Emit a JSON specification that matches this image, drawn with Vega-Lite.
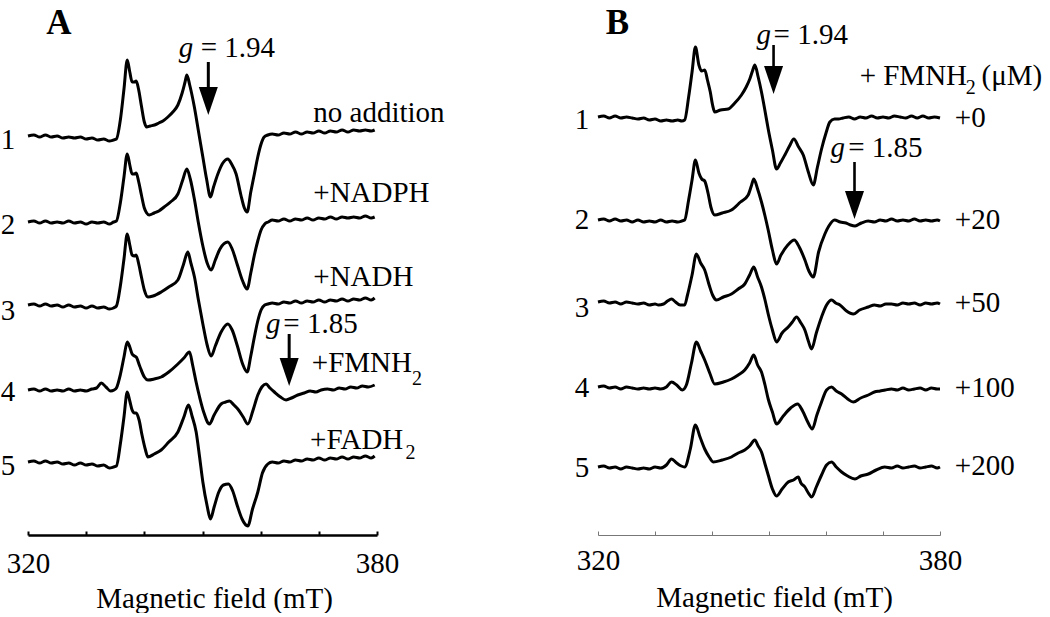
{
"$schema": "https://vega.github.io/schema/vega-lite/v6.json",
"background": "white",
"padding": {"left": 0, "top": 6, "right": 0, "bottom": 0},
"bounds": "flush",
"spacing": 221,
"config": {"view": {"stroke": null}, "font": "Liberation Serif"},
"datasets": {
"A": [
{"t":1,"x":320,"y":39.9},{"t":1,"x":321,"y":40.0},{"t":1,"x":322,"y":39.8},{"t":1,"x":323,"y":40.0},{"t":1,"x":324,"y":39.8},{"t":1,"x":325,"y":39.9},{"t":1,"x":326,"y":39.7},{"t":1,"x":327,"y":39.8},{"t":1,"x":328,"y":39.7},{"t":1,"x":329,"y":39.8},{"t":1,"x":330,"y":39.6},{"t":1,"x":331,"y":39.7},{"t":1,"x":332,"y":39.5},{"t":1,"x":333,"y":39.6},{"t":1,"x":334,"y":39.4},{"t":1,"x":334.7,"y":39.5},{"t":1,"x":335.2,"y":39.6},{"t":1,"x":335.9,"y":41.6},{"t":1,"x":336.5,"y":44.6},{"t":1,"x":337.06,"y":47.5},{"t":1,"x":337.5,"y":46.3},{"t":1,"x":337.9,"y":45.3},{"t":1,"x":338.3,"y":45.3},{"t":1,"x":338.6,"y":45.4},{"t":1,"x":339.0,"y":44.6},{"t":1,"x":339.5,"y":42.9},{"t":1,"x":340.0,"y":41.3},{"t":1,"x":340.4,"y":40.8},{"t":1,"x":341.0,"y":40.9},{"t":1,"x":341.75,"y":41.0},{"t":1,"x":342.5,"y":41.2},{"t":1,"x":343.2,"y":41.4},{"t":1,"x":344.05,"y":41.8},{"t":1,"x":344.9,"y":42.3},{"t":1,"x":345.77,"y":43.0},{"t":1,"x":346.5,"y":44.2},{"t":1,"x":347.0,"y":45.3},{"t":1,"x":347.31,"y":46.0},{"t":1,"x":347.8,"y":45.0},{"t":1,"x":348.6,"y":42.8},{"t":1,"x":349.3,"y":40.4},{"t":1,"x":350.06,"y":37.8},{"t":1,"x":350.7,"y":35.6},{"t":1,"x":351.37,"y":33.8},{"t":1,"x":351.9,"y":34.8},{"t":1,"x":352.64,"y":36.1},{"t":1,"x":353.5,"y":37.2},{"t":1,"x":354.35,"y":37.6},{"t":1,"x":355.0,"y":37.1},{"t":1,"x":355.78,"y":36.1},{"t":1,"x":356.6,"y":34.0},{"t":1,"x":357.2,"y":32.7},{"t":1,"x":357.67,"y":32.3},{"t":1,"x":358.3,"y":34.3},{"t":1,"x":358.92,"y":36.1},{"t":1,"x":359.5,"y":37.8},{"t":1,"x":360.07,"y":39.1},{"t":1,"x":360.6,"y":39.8},{"t":1,"x":361.23,"y":40.0},{"t":1,"x":362,"y":40.1},{"t":1,"x":363,"y":40.0},{"t":1,"x":364,"y":40.2},{"t":1,"x":365,"y":40.1},{"t":1,"x":366,"y":40.3},{"t":1,"x":367,"y":40.1},{"t":1,"x":368,"y":40.3},{"t":1,"x":369,"y":40.2},{"t":1,"x":370,"y":40.4},{"t":1,"x":371,"y":40.2},{"t":1,"x":372,"y":40.4},{"t":1,"x":373,"y":40.3},{"t":1,"x":374,"y":40.5},{"t":1,"x":375,"y":40.3},{"t":1,"x":376,"y":40.5},{"t":1,"x":377,"y":40.4},{"t":1,"x":378,"y":40.5},{"t":1,"x":379,"y":40.4},{"t":1,"x":379.6,"y":40.5},
{"t":2,"x":320,"y":31.3},{"t":2,"x":321,"y":31.4},{"t":2,"x":322,"y":31.2},{"t":2,"x":323,"y":31.4},{"t":2,"x":324,"y":31.2},{"t":2,"x":325,"y":31.3},{"t":2,"x":326,"y":31.2},{"t":2,"x":327,"y":31.4},{"t":2,"x":328,"y":31.2},{"t":2,"x":329,"y":31.3},{"t":2,"x":330,"y":31.1},{"t":2,"x":331,"y":31.3},{"t":2,"x":332,"y":31.2},{"t":2,"x":333,"y":31.3},{"t":2,"x":334,"y":31.1},{"t":2,"x":334.7,"y":31.3},{"t":2,"x":335.2,"y":31.4},{"t":2,"x":335.9,"y":33.3},{"t":2,"x":336.5,"y":35.8},{"t":2,"x":337.06,"y":38.1},{"t":2,"x":337.5,"y":37.0},{"t":2,"x":337.9,"y":36.1},{"t":2,"x":338.3,"y":36.1},{"t":2,"x":338.6,"y":36.2},{"t":2,"x":339.0,"y":35.4},{"t":2,"x":339.5,"y":34.0},{"t":2,"x":340.0,"y":32.7},{"t":2,"x":340.4,"y":32.2},{"t":2,"x":340.84,"y":32.0},{"t":2,"x":341.7,"y":32.2},{"t":2,"x":342.5,"y":32.4},{"t":2,"x":343.41,"y":32.8},{"t":2,"x":344.5,"y":33.3},{"t":2,"x":345.77,"y":34.1},{"t":2,"x":346.6,"y":35.5},{"t":2,"x":347.31,"y":36.6},{"t":2,"x":347.9,"y":35.6},{"t":2,"x":348.6,"y":33.6},{"t":2,"x":349.3,"y":31.2},{"t":2,"x":350.06,"y":28.9},{"t":2,"x":350.8,"y":27.2},{"t":2,"x":351.49,"y":26.5},{"t":2,"x":352.2,"y":27.5},{"t":2,"x":353.0,"y":28.6},{"t":2,"x":354.35,"y":29.3},{"t":2,"x":355.1,"y":28.6},{"t":2,"x":356.0,"y":27.0},{"t":2,"x":356.9,"y":25.4},{"t":2,"x":357.67,"y":24.6},{"t":2,"x":358.3,"y":26.2},{"t":2,"x":358.92,"y":28.0},{"t":2,"x":359.5,"y":29.4},{"t":2,"x":360.07,"y":30.5},{"t":2,"x":360.7,"y":31.1},{"t":2,"x":361.3,"y":31.3},{"t":2,"x":362,"y":31.5},{"t":2,"x":363,"y":31.4},{"t":2,"x":364,"y":31.6},{"t":2,"x":365,"y":31.4},{"t":2,"x":366,"y":31.6},{"t":2,"x":367,"y":31.5},{"t":2,"x":368,"y":31.7},{"t":2,"x":369,"y":31.5},{"t":2,"x":370,"y":31.7},{"t":2,"x":371,"y":31.6},{"t":2,"x":372,"y":31.8},{"t":2,"x":373,"y":31.6},{"t":2,"x":374,"y":31.8},{"t":2,"x":375,"y":31.7},{"t":2,"x":376,"y":31.8},{"t":2,"x":377,"y":31.7},{"t":2,"x":378,"y":31.9},{"t":2,"x":379,"y":31.7},{"t":2,"x":379.6,"y":31.8},
{"t":3,"x":320,"y":23.0},{"t":3,"x":321,"y":23.1},{"t":3,"x":322,"y":22.9},{"t":3,"x":323,"y":23.1},{"t":3,"x":324,"y":22.9},{"t":3,"x":325,"y":23.0},{"t":3,"x":326,"y":22.8},{"t":3,"x":327,"y":23.0},{"t":3,"x":328,"y":22.8},{"t":3,"x":329,"y":22.9},{"t":3,"x":330,"y":22.7},{"t":3,"x":331,"y":22.9},{"t":3,"x":332,"y":22.7},{"t":3,"x":333,"y":22.8},{"t":3,"x":334,"y":22.6},{"t":3,"x":334.7,"y":22.7},{"t":3,"x":335.2,"y":22.9},{"t":3,"x":335.9,"y":25.0},{"t":3,"x":336.5,"y":27.6},{"t":3,"x":337.06,"y":30.1},{"t":3,"x":337.5,"y":29.0},{"t":3,"x":337.9,"y":28.0},{"t":3,"x":338.3,"y":27.9},{"t":3,"x":338.6,"y":28.0},{"t":3,"x":339.0,"y":27.2},{"t":3,"x":339.5,"y":25.8},{"t":3,"x":340.0,"y":24.5},{"t":3,"x":340.61,"y":23.8},{"t":3,"x":341.5,"y":23.9},{"t":3,"x":342.9,"y":24.3},{"t":3,"x":344.2,"y":24.8},{"t":3,"x":345.77,"y":25.5},{"t":3,"x":346.7,"y":27.0},{"t":3,"x":347.48,"y":28.3},{"t":3,"x":348.0,"y":27.2},{"t":3,"x":348.62,"y":25.8},{"t":3,"x":349.3,"y":23.5},{"t":3,"x":350.06,"y":21.1},{"t":3,"x":350.8,"y":19.0},{"t":3,"x":351.49,"y":17.9},{"t":3,"x":352.2,"y":18.9},{"t":3,"x":353.2,"y":20.3},{"t":3,"x":354.35,"y":21.1},{"t":3,"x":355.1,"y":20.5},{"t":3,"x":356.0,"y":18.9},{"t":3,"x":356.9,"y":17.1},{"t":3,"x":357.67,"y":16.3},{"t":3,"x":358.3,"y":17.9},{"t":3,"x":358.92,"y":19.8},{"t":3,"x":359.5,"y":21.4},{"t":3,"x":360.07,"y":22.5},{"t":3,"x":360.7,"y":23.0},{"t":3,"x":361.23,"y":23.1},{"t":3,"x":362,"y":23.2},{"t":3,"x":363,"y":23.1},{"t":3,"x":364,"y":23.3},{"t":3,"x":365,"y":23.2},{"t":3,"x":366,"y":23.4},{"t":3,"x":367,"y":23.2},{"t":3,"x":368,"y":23.4},{"t":3,"x":369,"y":23.3},{"t":3,"x":370,"y":23.5},{"t":3,"x":371,"y":23.3},{"t":3,"x":372,"y":23.5},{"t":3,"x":373,"y":23.4},{"t":3,"x":374,"y":23.6},{"t":3,"x":375,"y":23.4},{"t":3,"x":376,"y":23.6},{"t":3,"x":377,"y":23.5},{"t":3,"x":378,"y":23.7},{"t":3,"x":379,"y":23.5},{"t":3,"x":379.6,"y":23.7},
{"t":4,"x":320,"y":14.5},{"t":4,"x":321,"y":14.6},{"t":4,"x":322,"y":14.4},{"t":4,"x":323,"y":14.6},{"t":4,"x":324,"y":14.4},{"t":4,"x":325,"y":14.5},{"t":4,"x":326,"y":14.4},{"t":4,"x":327,"y":14.6},{"t":4,"x":328,"y":14.4},{"t":4,"x":329,"y":14.5},{"t":4,"x":330,"y":14.4},{"t":4,"x":331,"y":14.6},{"t":4,"x":331.8,"y":14.7},{"t":4,"x":332.6,"y":15.2},{"t":4,"x":333.4,"y":14.8},{"t":4,"x":334.2,"y":14.4},{"t":4,"x":334.8,"y":14.5},{"t":4,"x":335.2,"y":14.7},{"t":4,"x":335.9,"y":16.1},{"t":4,"x":336.5,"y":17.8},{"t":4,"x":337.06,"y":19.3},{"t":4,"x":337.5,"y":18.8},{"t":4,"x":337.9,"y":18.1},{"t":4,"x":338.3,"y":17.9},{"t":4,"x":338.6,"y":17.8},{"t":4,"x":339.2,"y":16.9},{"t":4,"x":340.0,"y":15.8},{"t":4,"x":340.61,"y":15.5},{"t":4,"x":341.7,"y":15.6},{"t":4,"x":342.9,"y":15.8},{"t":4,"x":344.2,"y":16.3},{"t":4,"x":345.77,"y":17.1},{"t":4,"x":346.8,"y":17.7},{"t":4,"x":347.76,"y":18.3},{"t":4,"x":348.3,"y":17.0},{"t":4,"x":348.9,"y":15.3},{"t":4,"x":349.5,"y":13.8},{"t":4,"x":350.2,"y":12.3},{"t":4,"x":351.19,"y":11.1},{"t":4,"x":352.0,"y":12.0},{"t":4,"x":353.2,"y":13.1},{"t":4,"x":354.0,"y":13.3},{"t":4,"x":354.63,"y":13.4},{"t":4,"x":355.4,"y":13.0},{"t":4,"x":356.07,"y":12.6},{"t":4,"x":357.0,"y":11.8},{"t":4,"x":357.79,"y":11.1},{"t":4,"x":358.7,"y":12.5},{"t":4,"x":359.51,"y":14.0},{"t":4,"x":360.2,"y":14.8},{"t":4,"x":360.93,"y":15.1},{"t":4,"x":361.6,"y":14.7},{"t":4,"x":362.36,"y":14.3},{"t":4,"x":363.4,"y":13.8},{"t":4,"x":364.37,"y":13.5},{"t":4,"x":365.3,"y":13.7},{"t":4,"x":366.38,"y":14.0},{"t":4,"x":367.5,"y":14.2},{"t":4,"x":368.5,"y":14.4},{"t":4,"x":369.5,"y":14.3},{"t":4,"x":370.4,"y":14.5},{"t":4,"x":371.5,"y":14.6},{"t":4,"x":372.5,"y":14.5},{"t":4,"x":373.5,"y":14.7},{"t":4,"x":374.5,"y":14.6},{"t":4,"x":375.5,"y":14.8},{"t":4,"x":376.5,"y":14.7},{"t":4,"x":377.5,"y":14.9},{"t":4,"x":378.5,"y":14.8},{"t":4,"x":379.6,"y":15.0},
{"t":5,"x":320,"y":7.3},{"t":5,"x":321,"y":7.4},{"t":5,"x":322,"y":7.2},{"t":5,"x":323,"y":7.4},{"t":5,"x":324,"y":7.2},{"t":5,"x":325,"y":7.3},{"t":5,"x":326,"y":7.1},{"t":5,"x":327,"y":7.2},{"t":5,"x":328,"y":7.0},{"t":5,"x":329,"y":7.2},{"t":5,"x":330,"y":7.0},{"t":5,"x":331,"y":7.1},{"t":5,"x":332,"y":6.9},{"t":5,"x":333,"y":7.0},{"t":5,"x":334,"y":6.7},{"t":5,"x":334.7,"y":6.8},{"t":5,"x":335.2,"y":6.9},{"t":5,"x":335.9,"y":9.2},{"t":5,"x":336.5,"y":11.8},{"t":5,"x":337.06,"y":14.3},{"t":5,"x":337.5,"y":13.4},{"t":5,"x":337.9,"y":12.5},{"t":5,"x":338.3,"y":12.2},{"t":5,"x":338.6,"y":12.2},{"t":5,"x":339.1,"y":11.5},{"t":5,"x":339.6,"y":10.0},{"t":5,"x":340.2,"y":8.5},{"t":5,"x":340.61,"y":7.8},{"t":5,"x":341.7,"y":8.1},{"t":5,"x":342.9,"y":8.5},{"t":5,"x":344.2,"y":9.3},{"t":5,"x":345.77,"y":10.3},{"t":5,"x":346.8,"y":11.8},{"t":5,"x":347.59,"y":13.0},{"t":5,"x":348.2,"y":11.9},{"t":5,"x":348.91,"y":10.3},{"t":5,"x":349.5,"y":7.8},{"t":5,"x":350.06,"y":5.3},{"t":5,"x":350.8,"y":2.9},{"t":5,"x":351.37,"y":1.6},{"t":5,"x":352.0,"y":2.8},{"t":5,"x":352.8,"y":4.3},{"t":5,"x":353.6,"y":5.0},{"t":5,"x":354.46,"y":5.1},{"t":5,"x":355.2,"y":4.4},{"t":5,"x":356.0,"y":2.9},{"t":5,"x":356.8,"y":1.6},{"t":5,"x":357.79,"y":0.9},{"t":5,"x":358.6,"y":2.6},{"t":5,"x":359.51,"y":4.3},{"t":5,"x":360.3,"y":6.2},{"t":5,"x":361.23,"y":7.1},{"t":5,"x":362,"y":7.3},{"t":5,"x":363,"y":7.2},{"t":5,"x":364,"y":7.4},{"t":5,"x":365,"y":7.3},{"t":5,"x":366,"y":7.5},{"t":5,"x":367,"y":7.4},{"t":5,"x":368,"y":7.6},{"t":5,"x":369,"y":7.5},{"t":5,"x":370,"y":7.7},{"t":5,"x":371,"y":7.5},{"t":5,"x":372,"y":7.7},{"t":5,"x":373,"y":7.6},{"t":5,"x":374,"y":7.8},{"t":5,"x":375,"y":7.6},{"t":5,"x":376,"y":7.8},{"t":5,"x":377,"y":7.7},{"t":5,"x":378,"y":7.9},{"t":5,"x":379,"y":7.7},{"t":5,"x":379.6,"y":7.9}
],
"B": [
{"t":1,"x":320,"y":41.8},{"t":1,"x":321,"y":41.9},{"t":1,"x":322,"y":41.7},{"t":1,"x":323,"y":41.9},{"t":1,"x":324,"y":41.7},{"t":1,"x":325,"y":41.8},{"t":1,"x":326,"y":41.7},{"t":1,"x":327,"y":41.6},{"t":1,"x":328,"y":41.7},{"t":1,"x":329,"y":41.5},{"t":1,"x":330,"y":41.6},{"t":1,"x":331,"y":41.4},{"t":1,"x":332,"y":41.5},{"t":1,"x":333,"y":41.4},{"t":1,"x":334,"y":41.5},{"t":1,"x":334.7,"y":41.4},{"t":1,"x":335.2,"y":41.5},{"t":1,"x":335.9,"y":43.8},{"t":1,"x":336.5,"y":46.3},{"t":1,"x":337.09,"y":48.8},{"t":1,"x":337.7,"y":47.0},{"t":1,"x":338.2,"y":46.4},{"t":1,"x":338.72,"y":46.5},{"t":1,"x":339.2,"y":45.5},{"t":1,"x":339.7,"y":44.3},{"t":1,"x":340.1,"y":43.0},{"t":1,"x":340.48,"y":42.3},{"t":1,"x":341.5,"y":42.5},{"t":1,"x":342.84,"y":42.6},{"t":1,"x":344.0,"y":43.2},{"t":1,"x":345.17,"y":44.0},{"t":1,"x":346.0,"y":44.8},{"t":1,"x":346.63,"y":45.6},{"t":1,"x":347.1,"y":46.4},{"t":1,"x":347.51,"y":47.0},{"t":1,"x":348.1,"y":45.8},{"t":1,"x":348.68,"y":44.3},{"t":1,"x":349.3,"y":42.4},{"t":1,"x":349.86,"y":40.6},{"t":1,"x":350.6,"y":38.5},{"t":1,"x":351.32,"y":36.6},{"t":1,"x":352.0,"y":37.2},{"t":1,"x":352.78,"y":38.0},{"t":1,"x":353.6,"y":38.9},{"t":1,"x":354.36,"y":39.6},{"t":1,"x":355.2,"y":38.8},{"t":1,"x":356.01,"y":38.0},{"t":1,"x":356.9,"y":36.3},{"t":1,"x":357.77,"y":35.0},{"t":1,"x":358.5,"y":36.8},{"t":1,"x":359.22,"y":38.6},{"t":1,"x":360.0,"y":40.2},{"t":1,"x":360.68,"y":41.3},{"t":1,"x":361.5,"y":41.6},{"t":1,"x":362.2,"y":41.6},{"t":1,"x":363,"y":41.7},{"t":1,"x":364,"y":41.8},{"t":1,"x":365,"y":41.6},{"t":1,"x":366,"y":41.8},{"t":1,"x":367,"y":41.7},{"t":1,"x":368,"y":41.9},{"t":1,"x":369,"y":41.7},{"t":1,"x":370,"y":41.8},{"t":1,"x":371,"y":41.7},{"t":1,"x":372,"y":41.9},{"t":1,"x":373,"y":41.8},{"t":1,"x":374,"y":41.7},{"t":1,"x":375,"y":41.9},{"t":1,"x":376,"y":41.7},{"t":1,"x":377,"y":41.9},{"t":1,"x":378,"y":41.7},{"t":1,"x":379,"y":41.8},{"t":1,"x":380,"y":41.7},
{"t":2,"x":320,"y":31.5},{"t":2,"x":321,"y":31.6},{"t":2,"x":322,"y":31.4},{"t":2,"x":323,"y":31.6},{"t":2,"x":324,"y":31.4},{"t":2,"x":325,"y":31.5},{"t":2,"x":326,"y":31.3},{"t":2,"x":327,"y":31.5},{"t":2,"x":328,"y":31.3},{"t":2,"x":329,"y":31.4},{"t":2,"x":330,"y":31.3},{"t":2,"x":331,"y":31.5},{"t":2,"x":332,"y":31.3},{"t":2,"x":333,"y":31.4},{"t":2,"x":334,"y":31.3},{"t":2,"x":334.7,"y":31.4},{"t":2,"x":335.2,"y":31.5},{"t":2,"x":335.9,"y":33.5},{"t":2,"x":336.5,"y":35.5},{"t":2,"x":337.09,"y":37.5},{"t":2,"x":337.7,"y":36.2},{"t":2,"x":338.2,"y":35.6},{"t":2,"x":338.72,"y":35.4},{"t":2,"x":339.3,"y":34.2},{"t":2,"x":339.8,"y":32.8},{"t":2,"x":340.48,"y":32.0},{"t":2,"x":341.8,"y":32.2},{"t":2,"x":343.41,"y":32.5},{"t":2,"x":345.0,"y":33.3},{"t":2,"x":346.35,"y":34.0},{"t":2,"x":346.9,"y":34.9},{"t":2,"x":347.33,"y":35.6},{"t":2,"x":348.0,"y":34.6},{"t":2,"x":348.68,"y":33.3},{"t":2,"x":349.3,"y":31.9},{"t":2,"x":349.86,"y":30.5},{"t":2,"x":350.6,"y":28.5},{"t":2,"x":351.32,"y":27.1},{"t":2,"x":352.1,"y":28.0},{"t":2,"x":353.3,"y":29.0},{"t":2,"x":354.43,"y":29.5},{"t":2,"x":355.3,"y":28.8},{"t":2,"x":356.3,"y":27.5},{"t":2,"x":357.0,"y":26.4},{"t":2,"x":357.77,"y":25.8},{"t":2,"x":358.7,"y":28.3},{"t":2,"x":359.8,"y":30.1},{"t":2,"x":360.5,"y":30.9},{"t":2,"x":361.5,"y":31.5},{"t":2,"x":362.5,"y":31.3},{"t":2,"x":363.5,"y":31.2},{"t":2,"x":364.3,"y":31.0},{"t":2,"x":365.1,"y":30.9},{"t":2,"x":366.2,"y":31.2},{"t":2,"x":367.4,"y":31.4},{"t":2,"x":368.5,"y":31.3},{"t":2,"x":369.5,"y":31.5},{"t":2,"x":370.5,"y":31.4},{"t":2,"x":371.5,"y":31.6},{"t":2,"x":372.5,"y":31.4},{"t":2,"x":373.5,"y":31.5},{"t":2,"x":374.5,"y":31.4},{"t":2,"x":375.5,"y":31.6},{"t":2,"x":376.5,"y":31.4},{"t":2,"x":377.5,"y":31.5},{"t":2,"x":378.5,"y":31.4},{"t":2,"x":379.5,"y":31.5},{"t":2,"x":380,"y":31.4},
{"t":3,"x":320,"y":23.3},{"t":3,"x":321,"y":23.4},{"t":3,"x":322,"y":23.2},{"t":3,"x":323,"y":23.3},{"t":3,"x":324,"y":23.1},{"t":3,"x":325,"y":23.3},{"t":3,"x":326,"y":23.2},{"t":3,"x":327,"y":23.1},{"t":3,"x":328,"y":23.2},{"t":3,"x":329,"y":23.0},{"t":3,"x":330,"y":23.1},{"t":3,"x":330.6,"y":23.0},{"t":3,"x":331.5,"y":23.1},{"t":3,"x":332.2,"y":23.4},{"t":3,"x":332.9,"y":23.6},{"t":3,"x":333.6,"y":23.3},{"t":3,"x":334.4,"y":23.0},{"t":3,"x":335.2,"y":23.0},{"t":3,"x":335.7,"y":24.0},{"t":3,"x":336.5,"y":26.0},{"t":3,"x":337.27,"y":28.1},{"t":3,"x":338.0,"y":27.2},{"t":3,"x":338.72,"y":26.5},{"t":3,"x":339.5,"y":25.0},{"t":3,"x":340.1,"y":24.0},{"t":3,"x":340.78,"y":23.5},{"t":3,"x":342.0,"y":23.8},{"t":3,"x":343.41,"y":24.1},{"t":3,"x":344.6,"y":24.6},{"t":3,"x":345.75,"y":25.1},{"t":3,"x":346.6,"y":26.0},{"t":3,"x":347.33,"y":26.8},{"t":3,"x":348.0,"y":25.8},{"t":3,"x":348.68,"y":24.8},{"t":3,"x":349.3,"y":23.5},{"t":3,"x":349.86,"y":22.1},{"t":3,"x":350.6,"y":20.5},{"t":3,"x":351.32,"y":19.3},{"t":3,"x":352.3,"y":20.2},{"t":3,"x":353.37,"y":20.8},{"t":3,"x":354.1,"y":21.3},{"t":3,"x":354.83,"y":21.8},{"t":3,"x":355.6,"y":21.2},{"t":3,"x":356.29,"y":20.5},{"t":3,"x":356.9,"y":19.4},{"t":3,"x":357.47,"y":18.6},{"t":3,"x":358.3,"y":20.2},{"t":3,"x":359.22,"y":21.8},{"t":3,"x":360.1,"y":23.0},{"t":3,"x":360.98,"y":23.5},{"t":3,"x":361.7,"y":23.2},{"t":3,"x":362.44,"y":23.0},{"t":3,"x":363.6,"y":22.4},{"t":3,"x":364.79,"y":22.1},{"t":3,"x":365.9,"y":22.5},{"t":3,"x":367.43,"y":22.8},{"t":3,"x":368.5,"y":23.0},{"t":3,"x":369.5,"y":22.9},{"t":3,"x":370.5,"y":23.1},{"t":3,"x":371.5,"y":23.1},{"t":3,"x":372.5,"y":23.0},{"t":3,"x":373.5,"y":23.2},{"t":3,"x":374.5,"y":23.1},{"t":3,"x":375.5,"y":23.2},{"t":3,"x":376.5,"y":23.0},{"t":3,"x":377.5,"y":23.2},{"t":3,"x":378.5,"y":23.1},{"t":3,"x":379.5,"y":23.2},{"t":3,"x":380,"y":23.1},
{"t":4,"x":320,"y":14.8},{"t":4,"x":321,"y":14.9},{"t":4,"x":322,"y":14.7},{"t":4,"x":323,"y":14.8},{"t":4,"x":324,"y":14.6},{"t":4,"x":325,"y":14.8},{"t":4,"x":326,"y":14.7},{"t":4,"x":327,"y":14.6},{"t":4,"x":328,"y":14.7},{"t":4,"x":329,"y":14.6},{"t":4,"x":330,"y":14.7},{"t":4,"x":331,"y":14.6},{"t":4,"x":332.0,"y":14.8},{"t":4,"x":332.9,"y":15.3},{"t":4,"x":333.8,"y":15.0},{"t":4,"x":334.8,"y":14.5},{"t":4,"x":335.5,"y":15.0},{"t":4,"x":336.4,"y":17.2},{"t":4,"x":337.27,"y":19.3},{"t":4,"x":338.0,"y":18.4},{"t":4,"x":338.72,"y":17.5},{"t":4,"x":339.6,"y":16.2},{"t":4,"x":340.48,"y":15.1},{"t":4,"x":342.0,"y":15.3},{"t":4,"x":343.41,"y":15.6},{"t":4,"x":344.6,"y":16.0},{"t":4,"x":345.75,"y":16.5},{"t":4,"x":346.6,"y":17.2},{"t":4,"x":347.33,"y":18.0},{"t":4,"x":348.0,"y":17.0},{"t":4,"x":348.68,"y":16.3},{"t":4,"x":349.3,"y":15.0},{"t":4,"x":349.86,"y":13.6},{"t":4,"x":350.6,"y":12.3},{"t":4,"x":351.32,"y":11.1},{"t":4,"x":352.5,"y":11.9},{"t":4,"x":353.8,"y":12.7},{"t":4,"x":355.01,"y":13.1},{"t":4,"x":355.9,"y":12.4},{"t":4,"x":356.8,"y":11.3},{"t":4,"x":357.59,"y":10.6},{"t":4,"x":358.4,"y":12.0},{"t":4,"x":359.22,"y":13.3},{"t":4,"x":360.1,"y":14.5},{"t":4,"x":360.98,"y":14.8},{"t":4,"x":361.8,"y":14.4},{"t":4,"x":362.74,"y":14.1},{"t":4,"x":363.8,"y":13.6},{"t":4,"x":364.79,"y":13.3},{"t":4,"x":366.1,"y":13.7},{"t":4,"x":367.43,"y":14.0},{"t":4,"x":368.5,"y":14.3},{"t":4,"x":369.5,"y":14.4},{"t":4,"x":370.4,"y":14.5},{"t":4,"x":371.5,"y":14.6},{"t":4,"x":372.5,"y":14.5},{"t":4,"x":373.5,"y":14.7},{"t":4,"x":374.5,"y":14.5},{"t":4,"x":375.5,"y":14.6},{"t":4,"x":376.5,"y":14.7},{"t":4,"x":377.5,"y":14.5},{"t":4,"x":378.5,"y":14.7},{"t":4,"x":379.5,"y":14.6},{"t":4,"x":380,"y":14.6},
{"t":5,"x":320,"y":6.8},{"t":5,"x":321,"y":6.9},{"t":5,"x":322,"y":6.7},{"t":5,"x":323,"y":6.8},{"t":5,"x":324,"y":6.6},{"t":5,"x":325,"y":6.8},{"t":5,"x":326,"y":6.7},{"t":5,"x":327,"y":6.6},{"t":5,"x":328,"y":6.7},{"t":5,"x":329,"y":6.6},{"t":5,"x":330,"y":6.8},{"t":5,"x":331,"y":6.7},{"t":5,"x":332.0,"y":7.0},{"t":5,"x":332.9,"y":7.6},{"t":5,"x":333.8,"y":7.2},{"t":5,"x":334.6,"y":6.9},{"t":5,"x":335.2,"y":6.8},{"t":5,"x":336.2,"y":8.6},{"t":5,"x":337.09,"y":11.0},{"t":5,"x":337.9,"y":9.8},{"t":5,"x":338.72,"y":8.6},{"t":5,"x":339.5,"y":7.8},{"t":5,"x":340.2,"y":7.3},{"t":5,"x":341.8,"y":7.5},{"t":5,"x":343.41,"y":7.8},{"t":5,"x":344.6,"y":8.2},{"t":5,"x":345.75,"y":8.5},{"t":5,"x":346.6,"y":8.9},{"t":5,"x":347.51,"y":9.5},{"t":5,"x":348.1,"y":8.9},{"t":5,"x":348.68,"y":8.3},{"t":5,"x":349.3,"y":7.1},{"t":5,"x":349.86,"y":6.0},{"t":5,"x":350.6,"y":4.6},{"t":5,"x":351.32,"y":3.9},{"t":5,"x":352.3,"y":4.6},{"t":5,"x":353.37,"y":5.3},{"t":5,"x":354.3,"y":5.5},{"t":5,"x":355.13,"y":5.8},{"t":5,"x":355.6,"y":5.2},{"t":5,"x":356.29,"y":4.8},{"t":5,"x":356.9,"y":4.2},{"t":5,"x":357.47,"y":3.8},{"t":5,"x":358.3,"y":4.8},{"t":5,"x":359.22,"y":6.0},{"t":5,"x":360.1,"y":7.0},{"t":5,"x":360.98,"y":7.3},{"t":5,"x":361.8,"y":6.8},{"t":5,"x":362.74,"y":6.3},{"t":5,"x":363.8,"y":5.9},{"t":5,"x":365.07,"y":5.6},{"t":5,"x":366.1,"y":5.9},{"t":5,"x":367.43,"y":6.1},{"t":5,"x":368.8,"y":6.5},{"t":5,"x":370.3,"y":6.8},{"t":5,"x":371.5,"y":6.7},{"t":5,"x":372.5,"y":6.9},{"t":5,"x":373.5,"y":6.7},{"t":5,"x":374.5,"y":6.8},{"t":5,"x":375.5,"y":6.9},{"t":5,"x":376.5,"y":6.7},{"t":5,"x":377.5,"y":6.8},{"t":5,"x":378.5,"y":6.9},{"t":5,"x":379.5,"y":6.7},{"t":5,"x":380,"y":6.8}
],
"txtA": [
{"k":"letter","x":325.3,"y":50.1,"s":"A"},
{"k":"num","x":317.8,"y":38.6,"s":"1"},{"k":"num","x":317.8,"y":30.1,"s":"2"},{"k":"num","x":317.8,"y":21.5,"s":"3"},{"k":"num","x":317.8,"y":13.4,"s":"4"},{"k":"num","x":317.8,"y":6.0,"s":"5"},
{"k":"lab","x":369.05,"y":41.3,"s":"no addition"},{"k":"lab","x":369.05,"y":33.3,"s":"+NADPH"},{"k":"lab","x":369.05,"y":24.9,"s":"+NADH"},{"k":"lab","x":368.8,"y":16.3,"s":"+FMNH"},{"k":"lab","x":368.5,"y":8.6,"s":"+FADH"},
{"k":"sub","x":386.0,"y":15.0,"s":"2"},{"k":"sub","x":384.9,"y":7.6,"s":"2"},
{"k":"g","x":345.9,"y":47.8,"s":"g"},{"k":"eq","x":349.7,"y":47.8,"s":"= 1.94"},
{"k":"g","x":360.9,"y":20.2,"s":"g"},{"k":"eq","x":363.9,"y":20.2,"s":"= 1.85"}
],
"arrA": [
{"x":351.0,"y":47.3,"y2":44.6,"yh":43.4},
{"x":364.9,"y":20.1,"y2":17.5,"yh":16.3}
],
"txtB": [
{"k":"letter","x":323.4,"y":50.1,"s":"B"},
{"k":"num","x":318.47,"y":40.6,"s":"1"},{"k":"num","x":318.47,"y":30.6,"s":"2"},{"k":"num","x":318.47,"y":21.8,"s":"3"},{"k":"num","x":318.47,"y":13.8,"s":"4"},{"k":"num","x":318.47,"y":5.8,"s":"5"},
{"k":"lab","x":382.6,"y":40.8,"s":"+0"},{"k":"lab","x":382.6,"y":30.6,"s":"+20"},{"k":"lab","x":382.6,"y":22.3,"s":"+50"},{"k":"lab","x":382.6,"y":13.8,"s":"+100"},{"k":"lab","x":382.6,"y":6.0,"s":"+200"},
{"k":"lab","x":365.9,"y":45.0,"s":"+ FMNH"},{"k":"sub","x":384.5,"y":44.1,"s":"2"},{"k":"lab","x":387.3,"y":45.0,"s":"(μM)"},
{"k":"g","x":347.8,"y":49.1,"s":"g"},{"k":"eq","x":350.8,"y":49.1,"s":"= 1.94"},
{"k":"g","x":360.8,"y":37.8,"s":"g"},{"k":"eq","x":363.9,"y":37.8,"s":"= 1.85"}
],
"arrB": [
{"x":350.8,"y":49.0,"y2":46.6,"yh":45.5},
{"x":365.0,"y":37.3,"y2":34.2,"yh":33.0}
]
},
"hconcat": [
{
"width": 349, "height": 500,
"encoding": {
"x": {"field": "x", "type": "quantitative", "scale": {"domain": [320, 380], "nice": false, "zero": false},
 "axis": {"values": [320, 330, 340, 350, 360, 370, 380], "labelExpr": "datum.value == 320 || datum.value == 380 ? datum.label : ''", "title": "Magnetic field (mT)", "grid": false, "domainColor": "#000", "domainWidth": 2.6, "tickColor": "#000", "tickWidth": 2, "tickSize": -4, "labelFont": "Liberation Serif", "labelFontSize": 29, "labelColor": "#000", "labelPadding": 18, "labelFlush": false, "labelOverlap": false, "titleFont": "Liberation Serif", "titleFontSize": 29, "titleFontWeight": "normal", "titleColor": "#000", "titlePadding": 6, "titleX": 186}},
"y": {"field": "y", "type": "quantitative", "scale": {"domain": [0, 50], "nice": false, "zero": false}, "axis": null}
},
"layer": [
{"data": {"name": "A"}, "mark": {"type": "line", "color": "#000", "strokeWidth": 3, "strokeJoin": "round", "interpolate": "monotone"}, "encoding": {"detail": {"field": "t"}}},
{"data": {"name": "txtA"}, "transform": [{"filter": "datum.k == 'letter'"}], "mark": {"type": "text", "font": "Liberation Serif", "fontSize": 35, "fontWeight": "bold", "align": "center", "baseline": "alphabetic", "color": "#000"}, "encoding": {"text": {"field": "s"}}},
{"data": {"name": "txtA"}, "transform": [{"filter": "datum.k == 'num'"}], "mark": {"type": "text", "font": "Liberation Serif", "fontSize": 29, "align": "right", "baseline": "alphabetic", "color": "#000"}, "encoding": {"text": {"field": "s"}}},
{"data": {"name": "txtA"}, "transform": [{"filter": "datum.k == 'lab' || datum.k == 'eq'"}], "mark": {"type": "text", "font": "Liberation Serif", "fontSize": 29, "align": "left", "baseline": "alphabetic", "color": "#000"}, "encoding": {"text": {"field": "s"}}},
{"data": {"name": "txtA"}, "transform": [{"filter": "datum.k == 'sub'"}], "mark": {"type": "text", "font": "Liberation Serif", "fontSize": 20, "align": "left", "baseline": "alphabetic", "color": "#000"}, "encoding": {"text": {"field": "s"}}},
{"data": {"name": "txtA"}, "transform": [{"filter": "datum.k == 'g'"}], "mark": {"type": "text", "font": "Liberation Serif", "fontSize": 29, "fontStyle": "italic", "align": "left", "baseline": "alphabetic", "color": "#000"}, "encoding": {"text": {"field": "s"}}},
{"data": {"name": "arrA"}, "mark": {"type": "rule", "color": "#000", "strokeWidth": 3}, "encoding": {"y2": {"field": "y2"}}},
{"data": {"name": "arrA"}, "mark": {"type": "point", "shape": "M-0.68,-1L0.68,-1L0,1Z", "filled": true, "color": "#000", "opacity": 1, "size": 784, "strokeWidth": 0}, "encoding": {"y": {"field": "yh", "type": "quantitative", "scale": {"domain": [0, 50], "nice": false, "zero": false}, "axis": null}}}
]
},
{
"width": 342, "height": 500,
"encoding": {
"x": {"field": "x", "type": "quantitative", "scale": {"domain": [320, 380], "nice": false, "zero": false},
 "axis": {"values": [320, 330, 340, 350, 360, 370, 380], "labelExpr": "datum.value == 320 || datum.value == 380 ? datum.label : ''", "title": "Magnetic field (mT)", "grid": false, "domainColor": "#777", "domainWidth": 1.2, "tickColor": "#777", "tickWidth": 1, "tickSize": -4, "labelFont": "Liberation Serif", "labelFontSize": 29, "labelColor": "#000", "labelPadding": 15, "labelFlush": false, "labelOverlap": false, "titleFont": "Liberation Serif", "titleFontSize": 29, "titleFontWeight": "normal", "titleColor": "#000", "titlePadding": 8, "titleX": 176}},
"y": {"field": "y", "type": "quantitative", "scale": {"domain": [0, 50], "nice": false, "zero": false}, "axis": null}
},
"layer": [
{"data": {"name": "B"}, "mark": {"type": "line", "color": "#000", "strokeWidth": 3, "strokeJoin": "round", "interpolate": "monotone"}, "encoding": {"detail": {"field": "t"}}},
{"data": {"name": "txtB"}, "transform": [{"filter": "datum.k == 'letter'"}], "mark": {"type": "text", "font": "Liberation Serif", "fontSize": 35, "fontWeight": "bold", "align": "center", "baseline": "alphabetic", "color": "#000"}, "encoding": {"text": {"field": "s"}}},
{"data": {"name": "txtB"}, "transform": [{"filter": "datum.k == 'num'"}], "mark": {"type": "text", "font": "Liberation Serif", "fontSize": 29, "align": "right", "baseline": "alphabetic", "color": "#000"}, "encoding": {"text": {"field": "s"}}},
{"data": {"name": "txtB"}, "transform": [{"filter": "datum.k == 'lab' || datum.k == 'eq'"}], "mark": {"type": "text", "font": "Liberation Serif", "fontSize": 29, "align": "left", "baseline": "alphabetic", "color": "#000"}, "encoding": {"text": {"field": "s"}}},
{"data": {"name": "txtB"}, "transform": [{"filter": "datum.k == 'sub'"}], "mark": {"type": "text", "font": "Liberation Serif", "fontSize": 20, "align": "left", "baseline": "alphabetic", "color": "#000"}, "encoding": {"text": {"field": "s"}}},
{"data": {"name": "txtB"}, "transform": [{"filter": "datum.k == 'g'"}], "mark": {"type": "text", "font": "Liberation Serif", "fontSize": 29, "fontStyle": "italic", "align": "left", "baseline": "alphabetic", "color": "#000"}, "encoding": {"text": {"field": "s"}}},
{"data": {"name": "arrB"}, "mark": {"type": "rule", "color": "#000", "strokeWidth": 2.6}, "encoding": {"y2": {"field": "y2"}}},
{"data": {"name": "arrB"}, "mark": {"type": "point", "shape": "M-0.68,-1L0.68,-1L0,1Z", "filled": true, "color": "#000", "opacity": 1, "size": 784, "strokeWidth": 0}, "encoding": {"y": {"field": "yh", "type": "quantitative", "scale": {"domain": [0, 50], "nice": false, "zero": false}, "axis": null}}}
]
}
]
}
